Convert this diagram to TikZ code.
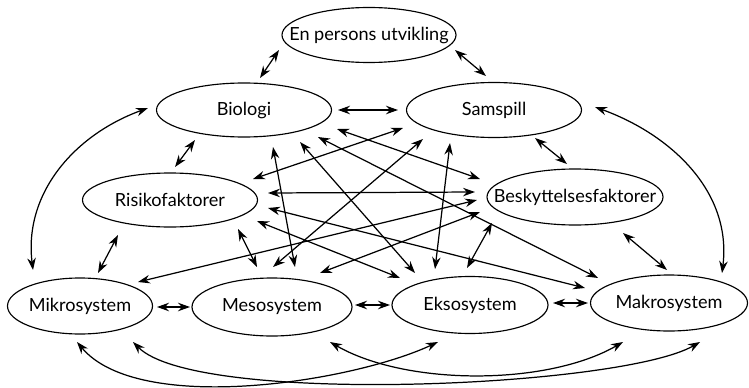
\documentclass[tikz,border=0pt]{standalone}
\usepackage{fontspec}
\setmainfont{Lato}
\usepackage{tikz}
\usetikzlibrary{arrows.meta,shapes.geometric,calc}

\begin{document}
\begin{tikzpicture}[
    x=0.2mm, y=0.2mm,
    oval/.style={ellipse, draw, line width=0.65pt, fill=white, inner sep=0pt, inner xsep=-4mm,
                 font=\fontsize{10.3}{12}\selectfont},
    link/.style={{Stealth[length=2.4mm,width=1.7mm]}-{Stealth[length=2.4mm,width=1.7mm]}, line width=0.7pt}
]
    \useasboundingbox (0,0) rectangle (749,387);

    % Top
    \node[oval, minimum width=34.8mm, minimum height=11mm] (person) at (369,352) {En persons utvikling};

    % Biologi and samspill
    \node[oval, minimum width=35mm, minimum height=10.8mm] (bio) at (244,277) {Biologi};
    \node[oval, minimum width=35mm, minimum height=11mm] (sam) at (494,277) {Samspill};

    % Risk and protection
    \node[oval, minimum width=35mm, minimum height=10.8mm] (risk) at (170,187) {Risikofaktorer};
    \node[oval, minimum width=35.2mm, minimum height=11.2mm] (prot) at (575,190) {Beskyttelsesfaktorer};

    % Systems (bottom row)
    \node[oval, minimum width=29mm, minimum height=11.2mm] (mikro) at (80,81) {Mikrosystem};
    \node[oval, minimum width=32mm, minimum height=11.6mm] (meso) at (272,80) {Mesosystem};
    \node[oval, minimum width=31.2mm, minimum height=11.4mm] (ekso) at (470,82) {Eksosystem};
    \node[oval, minimum width=31.4mm, minimum height=11.2mm] (makro) at (669,84) {Makrosystem};

    % Short links between neighbours
    \draw[link] ($(person)+(-90,-15)$) -- ($(bio)+(16,32)$);
    \draw[link] ($(person)+(86,-15)$) -- ($(sam)+(-8,34)$);
    \draw[link] ($(bio)+(94,0)$) -- ($(sam)+(-96,0)$);
    \draw[link] ($(bio)+(-49,-30)$) -- ($(risk)+(5,33)$);
    \draw[link] ($(sam)+(41,-28)$) -- ($(prot)+(-8,33)$);
    \draw[link] ($(risk)+(-52,-35)$) -- ($(mikro)+(18,33)$);
    \draw[link] ($(prot)+(48,-36)$) -- ($(makro)+(-2,33)$);
    \draw[link] ($(risk)+(68,-29)$) -- ($(meso)+(-15,40)$);
    \draw[link] ($(prot)+(-83,-26)$) -- ($(ekso)+(-3,37)$);
    \draw[link] ($(mikro)+(77,-1)$) -- ($(meso)+(-82,0)$);
    \draw[link] ($(meso)+(83,2)$) -- ($(ekso)+(-80,0)$);
    \draw[link] ($(ekso)+(83,2)$) -- ($(makro)+(-81,0)$);

    % Cross links in the middle
    \draw[link] ($(bio)+(93,-19)$) -- ($(prot)+(-95,18)$);
    \draw[link] ($(sam)+(-91,-18)$) -- ($(risk)+(83,21)$);
    \draw[link] ($(risk)+(98,7)$) -- ($(prot)+(-100,5)$);
    \draw[link] ($(bio)+(29,-37)$) -- ($(meso)+(23,40)$);
    \draw[link] ($(sam)+(-71,-29)$) -- ($(meso)+(1,40)$);
    \draw[link] ($(sam)+(-44,-33)$) -- ($(ekso)+(-35,36)$);
    \draw[link] ($(bio)+(56,-32)$) -- ($(ekso)+(-55,32)$);
    \draw[link] ($(bio)+(74,-27)$) -- ($(makro)+(-71,25)$);
    \draw[link] ($(prot)+(-98,-3)$) -- ($(mikro)+(58,24)$);
    \draw[link] ($(prot)+(-95,-15)$) -- ($(meso)+(48,34)$);
    \draw[link] ($(risk)+(98,-8)$) -- ($(makro)+(-84,15)$);
    \draw[link] ($(risk)+(87,-21)$) -- ($(ekso)+(-70,27)$);

    % Outer arcs
    \draw[link] ($(bio)+(-96,2)$) to[out=200, in=97] ($(mikro)+(-47,36)$);
    \draw[link] ($(sam)+(101,3)$) to[out=-20, in=83] ($(makro)+(53,30)$);
    \draw[link] ($(mikro)+(-3,-36)$) to[out=-50, in=-155, looseness=0.68] ($(ekso)+(-32,-37)$);
    \draw[link] ($(mikro)+(53,-36)$) to[out=-45, in=-150, looseness=0.41] ($(makro)+(31,-39)$);
    \draw[link] ($(meso)+(58,-35)$) to[out=-30, in=-150, looseness=0.77] ($(makro)+(-46,-39)$);

\end{tikzpicture}
\end{document}
